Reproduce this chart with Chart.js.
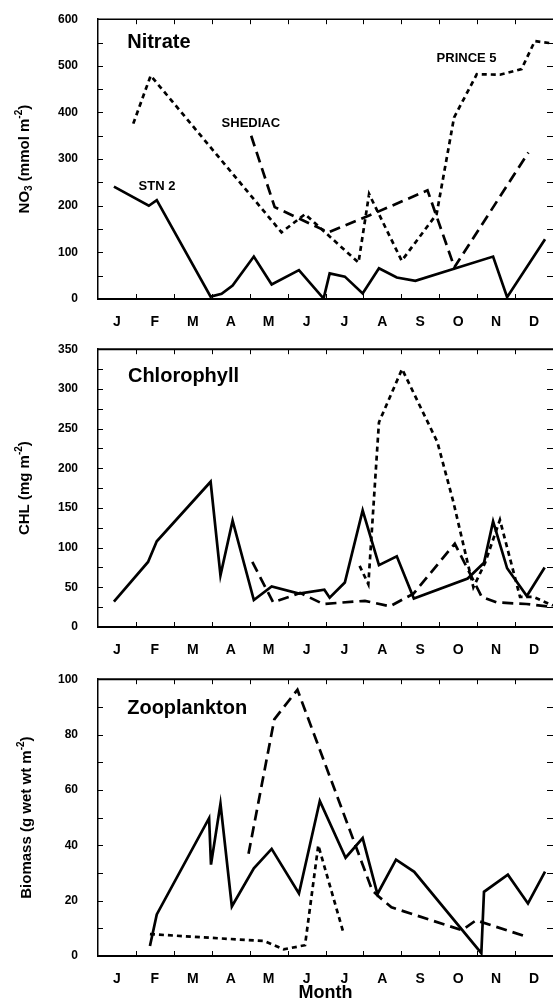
<!DOCTYPE html>
<html>
<head>
<meta charset="utf-8">
<script src="https://cdn.jsdelivr.net/npm/chart.js@4.4.1/dist/chart.umd.min.js"></script>
<style>
  body { margin: 0; background: #fff; width: 553px; height: 1002px; overflow: hidden; }
  canvas { position: absolute; left: 0; }
</style>
</head>
<body>
<canvas id="nitrate" width="553" height="330" style="top:0px"></canvas>
<canvas id="chl" width="553" height="330" style="top:330px"></canvas>
<canvas id="zoo" width="553" height="342" style="top:660px"></canvas>
<script>
const FONT = '"Liberation Sans", Arial, sans-serif';
const MONTHS = ['J', 'F', 'M', 'A', 'M', 'J', 'J', 'A', 'S', 'O', 'N', 'D'];

// x values are months since 1 January (0..12)
// Nitrate, mmol m-2
const no3Stn2X = [0.42, 1.34, 1.55, 2.97, 3.26, 3.55, 4.11, 4.58, 5.30, 5.95, 6.11, 6.51, 6.98, 7.41, 7.88, 8.37, 10.42, 10.79, 11.79];
const no3Stn2Y = [241, 200, 212, 5, 11, 29, 91, 31, 62, 1, 55, 48, 12, 66, 46, 39, 91, 4, 128];
const no3ShediacX = [4.04, 4.66, 6.08, 7.12, 8.69, 9.40, 11.35];
const no3ShediacY = [350, 197, 143, 178, 233, 68, 314];
const no3PrinceX = [0.93, 1.39, 4.84, 5.46, 6.87, 7.15, 8.01, 8.93, 9.39, 9.99, 10.60, 11.17, 11.52, 12.0];
const no3PrinceY = [376, 479, 143, 182, 78, 225, 82, 182, 389, 482, 481, 493, 553, 548];

// Chlorophyll, mg m-2
const chlStn2X = [0.42, 1.32, 1.55, 2.97, 3.23, 3.55, 4.11, 4.58, 5.30, 5.97, 6.11, 6.51, 6.98, 7.41, 7.88, 8.33, 9.75, 10.18, 10.42, 10.79, 11.31, 11.78];
const chlStn2Y = [32, 82, 108, 183, 65, 134, 34, 51, 42, 47, 37, 56, 147, 78, 89, 36, 61, 81, 133, 74, 39, 75];
const chlShediacX = [4.07, 4.62, 5.33, 5.94, 7.04, 7.70, 8.32, 9.41, 10.12, 10.51, 11.30, 12.0];
const chlShediacY = [82, 31, 43, 29, 33, 26, 42, 105, 38, 31, 29, 25];
const chlPrinceX = [6.90, 7.13, 7.41, 8.02, 8.95, 9.37, 9.90, 10.21, 10.60, 11.13, 11.48, 12.0];
const chlPrinceY = [77, 54, 258, 325, 233, 158, 50, 81, 135, 38, 38, 27];

// Zooplankton biomass, g wet wt m-2
const zooStn2X = [1.37, 1.55, 2.93, 2.98, 3.23, 3.53, 4.11, 4.58, 5.30, 5.85, 6.53, 6.98, 7.37, 7.86, 8.34, 10.11, 10.18, 10.81, 11.34, 11.79];
const zooStn2Y = [3.6, 15, 49.8, 33, 55, 17.9, 31.7, 38.7, 22.6, 56, 35.5, 42.6, 22.4, 34.8, 30.4, 1, 23.2, 29.4, 19, 30.5];
const zooShediacX = [3.97, 4.65, 5.26, 7.23, 7.41, 7.74, 9.60, 9.97, 11.32];
const zooShediacY = [36.9, 85.5, 96.2, 23.8, 21.4, 17.6, 9.3, 12.9, 6.9];
const zooPrinceX = [1.37, 4.39, 4.90, 5.46, 5.81, 6.46];
const zooPrinceY = [7.9, 5.4, 2.4, 3.9, 40, 9];

const DASH = { stn2: [], shediac: [11, 6], prince: [5, 4] };

const toPoints = (xs, ys) => xs.map((x, i) => ({ x: x, y: ys[i] }));

// frame: top line plus inner tick marks on all four sides
const framePlugin = {
    id: 'frame',
    afterDraw(chart, args, opts) {
        const { ctx, chartArea: { left, right, top, bottom }, scales: { x, y } } = chart;
        ctx.save();
        ctx.strokeStyle = '#000';
        ctx.lineWidth = opts.topWidth;
        ctx.beginPath();
        ctx.moveTo(left, top);
        ctx.lineTo(right, top);
        ctx.stroke();

        ctx.lineWidth = 1;
        ctx.beginPath();
        for (let m = 1; m < 12; m++) {
            const px = Math.round(x.getPixelForValue(m)) + 0.5;
            ctx.moveTo(px, top);
            ctx.lineTo(px, top + 5);
            ctx.moveTo(px, bottom);
            ctx.lineTo(px, bottom - 5);
        }
        for (let v = opts.minor; v < y.max; v += opts.minor) {
            const py = Math.round(y.getPixelForValue(v)) + 0.5;
            ctx.moveTo(left, py);
            ctx.lineTo(left + 5, py);
            ctx.moveTo(right, py);
            ctx.lineTo(right - 6, py);
        }
        ctx.stroke();
        ctx.restore();
    }
};

// rotated y-axis title with sub/superscripts
const yTitlePlugin = {
    id: 'yTitle',
    afterDraw(chart, args, opts) {
        const { ctx, chartArea: { top, bottom } } = chart;
        const big = `bold ${opts.size}px ${FONT}`;
        const small = `bold ${Math.round(opts.size * 0.68)}px ${FONT}`;
        ctx.save();
        let total = 0;
        opts.parts.forEach(p => {
            ctx.font = p.kind === 'n' ? big : small;
            total += ctx.measureText(p.text).width;
        });
        ctx.translate(opts.x, (top + bottom) / 2);
        ctx.rotate(-Math.PI / 2);
        ctx.fillStyle = '#000';
        ctx.textBaseline = 'alphabetic';
        ctx.textAlign = 'left';
        let cur = -total / 2;
        opts.parts.forEach(p => {
            ctx.font = p.kind === 'n' ? big : small;
            const shift = p.kind === 'sub' ? 3 : (p.kind === 'sup' ? -7 : 0);
            ctx.fillText(p.text, cur, shift);
            cur += ctx.measureText(p.text).width;
        });
        ctx.restore();
    }
};

// panel title and series names, placed in data units
const notesPlugin = {
    id: 'notes',
    afterDraw(chart, args, opts) {
        const { ctx, scales: { x, y } } = chart;
        ctx.save();
        ctx.fillStyle = '#000';
        ctx.textAlign = 'left';
        ctx.textBaseline = 'middle';
        opts.items.forEach(n => {
            ctx.font = `bold ${n.size}px ${FONT}`;
            ctx.fillText(n.text, x.getPixelForValue(n.x), y.getPixelForValue(n.y));
        });
        ctx.restore();
    }
};

const makePanel = (id, cfg) => {
    const series = [
        { pts: cfg.stn2, dash: DASH.stn2 },
        { pts: cfg.shediac, dash: DASH.shediac },
        { pts: cfg.prince, dash: DASH.prince },
    ];
    new Chart(document.getElementById(id), {
        type: 'line',
        data: {
            datasets: series.map(s => ({
                data: s.pts,
                borderColor: '#000',
                borderWidth: 2.7,
                borderDash: s.dash,
                borderCapStyle: 'butt',
                borderJoinStyle: 'miter',
                pointRadius: 0,
                tension: 0,
                fill: false,
            })),
        },
        options: {
            responsive: false,
            animation: false,
            devicePixelRatio: 1,
            layout: { padding: { top: cfg.padTop, left: 0, right: 0, bottom: 0 } },
            plugins: {
                legend: { display: false },
                tooltip: { enabled: false },
                frame: { topWidth: cfg.topWidth, minor: cfg.minor },
                yTitle: { x: cfg.titleX, size: 15, parts: cfg.yTitle },
                notes: { items: cfg.notes },
            },
            scales: {
                x: {
                    type: 'linear',
                    min: 0,
                    max: 12,
                    grid: { display: false },
                    border: { display: true, color: '#000', width: 2 },
                    afterBuildTicks: (scale) => {
                        scale.ticks = MONTHS.map((m, i) => ({ value: i + 0.5 }));
                    },
                    afterFit: (scale) => { scale.height = cfg.xHeight; },
                    ticks: {
                        autoSkip: false,
                        maxRotation: 0,
                        padding: 7,
                        color: '#000',
                        font: { family: FONT, size: 14, weight: 'bold' },
                        callback: (value, index) => MONTHS[index],
                    },
                    title: {
                        display: !!cfg.xTitle,
                        text: cfg.xTitle || '',
                        color: '#000',
                        padding: 0,
                        font: { family: FONT, size: 18, weight: 'bold', lineHeight: 1 },
                    },
                },
                y: {
                    min: 0,
                    max: cfg.yMax,
                    grid: { display: false },
                    border: { display: true, color: '#000', width: 1.5 },
                    afterFit: (scale) => { scale.width = 98; },
                    ticks: {
                        stepSize: cfg.step,
                        padding: 12,
                        color: '#000',
                        font: { family: FONT, size: 12, weight: 'bold' },
                    },
                },
            },
        },
        plugins: [framePlugin, yTitlePlugin, notesPlugin],
    });
};

makePanel('nitrate', {
    stn2: toPoints(no3Stn2X, no3Stn2Y),
    shediac: toPoints(no3ShediacX, no3ShediacY),
    prince: toPoints(no3PrinceX, no3PrinceY),
    yMax: 600, step: 100, minor: 50,
    padTop: 18, xHeight: 31, topWidth: 1.5, titleX: 28.5,
    yTitle: [
        { text: 'NO', kind: 'n' }, { text: '3', kind: 'sub' },
        { text: ' (mmol m', kind: 'n' }, { text: '-2', kind: 'sup' }, { text: ')', kind: 'n' },
    ],
    notes: [
        { text: 'Nitrate', x: 0.77, y: 549, size: 20 },
        { text: 'SHEDIAC', x: 3.26, y: 376, size: 13 },
        { text: 'STN 2', x: 1.07, y: 241, size: 13 },
        { text: 'PRINCE 5', x: 8.93, y: 516, size: 13 },
    ],
});

makePanel('chl', {
    stn2: toPoints(chlStn2X, chlStn2Y),
    shediac: toPoints(chlShediacX, chlShediacY),
    prince: toPoints(chlPrinceX, chlPrinceY),
    yMax: 350, step: 50, minor: 25,
    padTop: 16, xHeight: 33, topWidth: 2, titleX: 28.5,
    yTitle: [
        { text: 'CHL (mg m', kind: 'n' }, { text: '-2', kind: 'sup' }, { text: ')', kind: 'n' },
    ],
    notes: [
        { text: 'Chlorophyll', x: 0.79, y: 316, size: 20 },
    ],
});

makePanel('zoo', {
    stn2: toPoints(zooStn2X, zooStn2Y),
    shediac: toPoints(zooShediacX, zooShediacY),
    prince: toPoints(zooPrinceX, zooPrinceY),
    yMax: 100, step: 20, minor: 10,
    padTop: 16, xHeight: 46, topWidth: 2, titleX: 30.5,
    xTitle: 'Month',
    yTitle: [
        { text: 'Biomass (g wet wt m', kind: 'n' }, { text: '-2', kind: 'sup' }, { text: ')', kind: 'n' },
    ],
    notes: [
        { text: 'Zooplankton', x: 0.77, y: 89.6, size: 20 },
    ],
});
</script>
</body>
</html>
